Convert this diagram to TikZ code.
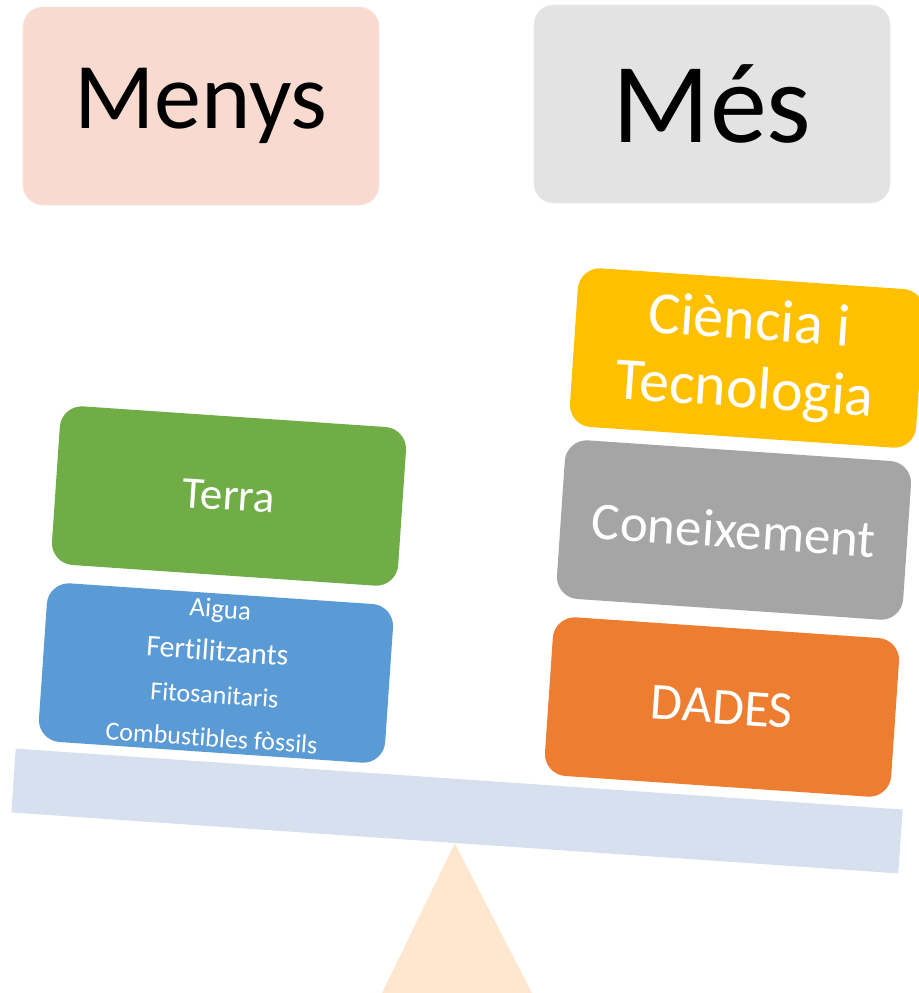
\documentclass[tikz,border=0pt]{standalone}
\usepackage{fontspec}
\setmainfont{Carlito}[Ligatures={NoCommon,NoContextual},Contextuals=NoAlternate]
\definecolor{menysbg}{HTML}{F8DAD1}
\definecolor{mesbg}{HTML}{E3E3E3}
\definecolor{terragreen}{HTML}{70AD47}
\definecolor{inputblue}{HTML}{5B9BD5}
\definecolor{sciyellow}{HTML}{FFC000}
\definecolor{knowgray}{HTML}{A5A5A5}
\definecolor{dataorange}{HTML}{ED7D31}
\definecolor{beamblue}{HTML}{D6E0EE}
\definecolor{pivotpeach}{HTML}{FEE7CE}

\begin{document}
\begin{tikzpicture}[x=0.5pt,y=-0.5pt,
    tag/.style={rounded corners=10pt,minimum width=178pt,minimum height=99pt,inner sep=0pt},
    blk/.style={rounded corners=11pt,rotate=-3.9,minimum width=173.5pt,minimum height=79.5pt,
                inner sep=0pt,text=white,align=center}]
\useasboundingbox (0,0) rectangle (918,993);

% top labels
\node[tag,fill=menysbg,draw=menysbg!70,font=\fontsize{47}{56}\selectfont] (menys) at (201,106) {Menys};
\node[tag,fill=mesbg,draw=mesbg!80,font=\fontsize{57}{66}\selectfont] (mes) at (712,104) {Més};

% balance
\node[fill=beamblue,rotate=-3.93,minimum width=444.5pt,minimum height=32pt,inner sep=0pt] (beam) at (457,811) {};
\fill[pivotpeach] (beam.south) -- (382,993) -- (532,993) -- cycle;

% left pan
\node[blk,fill=terragreen,font=\fontsize{22.5}{27}\selectfont] (terra) at (229,496) {Terra};
\node[blk,fill=inputblue,font=\fontsize{13}{21.5}\selectfont] (inputs) at (216,673)
    {\fontsize{13.5}{21.5}\selectfont Aigua\\
     \fontsize{15}{21.5}\selectfont Fertilitzants\\
     \fontsize{13}{21.5}\selectfont Fitosanitaris\\
     Combustibles fòssils};

% right pan
\node[blk,fill=sciyellow,font=\fontsize{30}{34}\selectfont] (ciencia) at (747,358) {Ciència i\\Tecnologia};
\node[blk,fill=knowgray,font=\fontsize{26.5}{32}\selectfont] (coneix) at (734,530) {Coneixement};
\node[blk,fill=dataorange,font=\fontsize{26}{31}\selectfont] (dades) at (722,707) {DADES};
\end{tikzpicture}
\end{document}
